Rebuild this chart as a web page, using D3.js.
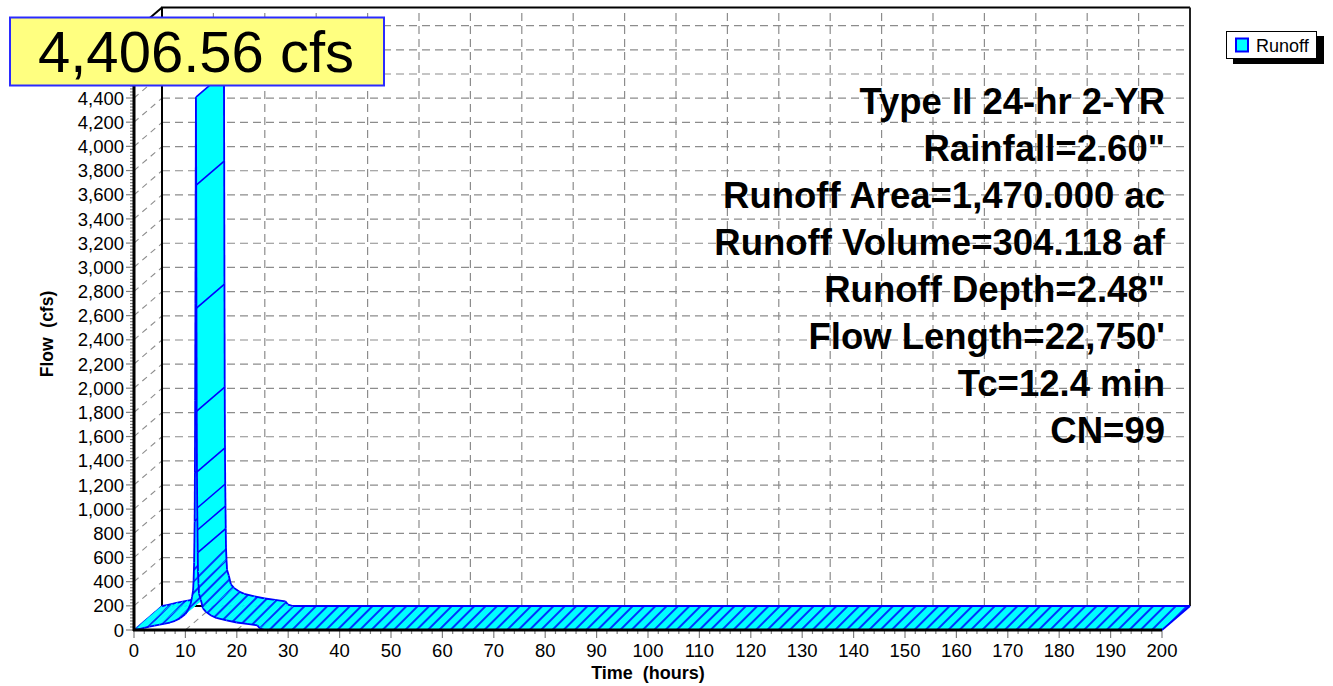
<!DOCTYPE html>
<html><head><meta charset="utf-8">
<script src="https://cdn.jsdelivr.net/npm/d3@7"></script>
<style>
body{margin:0;background:#fff}
svg{display:block}
text{font-family:"Liberation Sans",Arial,Helvetica,sans-serif}
</style>
</head><body>
<svg id="chart" width="1333" height="686"></svg>
<script>
// ---- data ----
const hours = [0, 1, 2, 3, 4, 5, 6, 7, 8, 9, 10, 10.5, 11, 11.3, 11.5, 11.6, 11.7, 11.8, 11.85, 11.9, 11.95, 12.0,
  12.05, 12.1, 12.15, 12.2, 12.25, 12.3, 12.35, 12.4, 12.45, 12.55, 12.65,
  13.0, 13.4, 14, 15, 16, 18, 20, 22, 24, 24.5, 25.5, 200];
const flowCfs = [0, 8, 18, 28, 36, 44, 52, 62, 76, 98, 132, 165, 215, 273, 330, 413, 560, 900, 1300, 1900, 2700, 3600,
  4406.56, 3680, 2663, 1811, 1307, 1009, 827, 640, 480, 380, 300,
  250, 180, 150, 120, 100, 80, 62, 50, 38, 12, 0, 0];
const seriesName = "Runoff";
const peakLabel = "4,406.56 cfs";
const xTickValues = [0,10,20,30,40,50,60,70,80,90,100,110,120,130,140,150,160,170,180,190,200];
const yGridValues = [0,200,400,600,800,1000,1200,1400,1600,1800,2000,2200,2400,2600,2800,3000,3200,3400,3600,3800,4000,4200,4400,4600,4800];
// labels visible in the reference (4,600 and 4,800 sit behind the peak label box)
const yTickLabels = ["0","200","400","600","800","1,000","1,200","1,400","1,600","1,800","2,000","2,200","2,400","2,600","2,800","3,000","3,200","3,400","3,600","3,800","4,000","4,200","4,400"];
const statsLines = ["Type II 24-hr 2-YR", "Rainfall=2.60\"", "Runoff Area=1,470.000 ac", "Runoff Volume=304.118 af",
  "Runoff Depth=2.48\"", "Flow Length=22,750'", "Tc=12.4 min", "CN=99"];
const xTitle = "Time  (hours)";
const yTitle = "Flow  (cfs)";

// ---- layout ----
const svg = d3.select("#chart");
const x = d3.scaleLinear().domain([0, 200]).range([134, 1162]);
const y = d3.scaleLinear().domain([0, 4950]).range([630, 31.5]);
const DX = 28, DY = -24;
const gridColor = "#8c8c8c", tickColor = "#808080";
const CYAN = "#00ffff", BLUE = "#0000ff";

const defs = svg.append("defs");
const pat = defs.append("pattern").attr("id", "hatch").attr("patternUnits", "userSpaceOnUse")
  .attr("width", 8).attr("height", 8).attr("patternTransform", "rotate(45)");
pat.append("line").attr("x1", 4).attr("y1", -1).attr("x2", 4).attr("y2", 9)
  .attr("stroke", BLUE).attr("stroke-width", 1.6);

const x0 = x.range()[0], x1 = x.range()[1];
const yBot = y(0), yTop = y(y.domain()[1]);

// grids
const g = svg.append("g").attr("fill", "none").attr("stroke", gridColor).attr("stroke-width", 1.2).attr("stroke-dasharray", "8,5");
yGridValues.filter(v => v > 0).forEach(v => {
  g.append("line").attr("x1", x0 + DX).attr("x2", x1 + DX).attr("y1", y(v) + DY).attr("y2", y(v) + DY);
});
xTickValues.filter(t => t > 0 && t < 200).forEach(t => {
  g.append("line").attr("x1", x(t) + DX).attr("x2", x(t) + DX).attr("y1", yBot + DY).attr("y2", yTop + DY);
});
const gd = svg.append("g").attr("fill", "none").attr("stroke", gridColor).attr("stroke-width", 1.1).attr("stroke-dasharray", "6,5");
yGridValues.forEach(v => {
  gd.append("line").attr("x1", x0).attr("y1", y(v)).attr("x2", x0 + DX).attr("y2", y(v) + DY);
});
xTickValues.filter(t => t > 0 && t < 200).forEach(t => {
  gd.append("line").attr("x1", x(t)).attr("y1", yBot).attr("x2", x(t) + DX).attr("y2", yBot + DY);
});

// frame
const fr = svg.append("g").attr("stroke", "#000").attr("fill", "none");
fr.append("path").attr("stroke-width", 2).attr("d", `M${x0 + DX},${yBot + DY}V${yTop + DY}H${x1 + DX}`);
fr.append("path").attr("stroke-width", 2).attr("stroke", "#222").attr("d", `M${x1 + DX},${yTop + DY}V${yBot + DY}`);
fr.append("path").attr("stroke-width", 2).attr("d", `M${x0 + DX},${yBot + DY}H${x1 + DX}`);
fr.append("path").attr("stroke-width", 2).attr("d", `M${x0},${yTop}L${x0 + DX},${yTop + DY}`);

// ticks
const tk = svg.append("g").attr("stroke", tickColor).attr("stroke-width", 1.2);
d3.range(0, 4951, 25).forEach(v => {
  const major = v % 200 === 0;
  tk.append("line").attr("x1", x0 - (major ? 8 : 4)).attr("x2", x0).attr("y1", y(v)).attr("y2", y(v));
});
d3.range(0, 201, 2).forEach(t => {
  const major = t % 10 === 0;
  tk.append("line").attr("x1", x(t)).attr("x2", x(t)).attr("y1", yBot).attr("y2", yBot + (major ? 8 : 4));
});

// ---- ribbon ----
const rib = svg.append("g");
const pts = hours.map((t, i) => ({ t, v: flowCfs[i] }));
function quad(a, b) {
  return [[x(a.t), y(a.v)], [x(b.t), y(b.v)], [x(b.t) + DX, y(b.v) + DY], [x(a.t) + DX, y(a.v) + DY]];
}
const line = d3.line();
rib.append("path").attr("d", line([[x(pts[0].t), y(pts[0].v)], [x(pts[0].t) + DX, y(pts[0].v) + DY]]))
  .attr("stroke", BLUE).attr("stroke-width", 1.6);
for (let i = 0; i < pts.length - 1; i++) {
  const a = pts[i], b = pts[i + 1];
  const q = quad(a, b);
  rib.append("path").attr("d", line(q) + "Z").attr("fill", CYAN).attr("stroke", CYAN).attr("stroke-width", 0.6);
  if (Math.max(a.v, b.v) < 600) {
    rib.append("path").attr("d", line(q) + "Z").attr("fill", "url(#hatch)");
  }
  rib.append("path").attr("d", line([q[0], q[1]])).attr("stroke", BLUE).attr("stroke-width", 1.8).attr("fill", "none");
  rib.append("path").attr("d", line([q[3], q[2]])).attr("stroke", BLUE).attr("stroke-width", 1.8).attr("fill", "none");
  if (a.v >= 600) {
    rib.append("path").attr("d", line([q[0], q[3]])).attr("stroke", BLUE).attr("stroke-width", 1.6);
  }
}
const last = pts[pts.length - 1];
rib.append("path").attr("d", line([[x(last.t), y(last.v)], [x(last.t) + DX, y(last.v) + DY]]))
  .attr("stroke", BLUE).attr("stroke-width", 1.8);

// front axes lines
svg.append("line").attr("x1", x0).attr("x2", x0).attr("y1", yBot + 1).attr("y2", yTop).attr("stroke", "#000").attr("stroke-width", 3);
svg.append("line").attr("x1", x0 - 1).attr("x2", x1).attr("y1", yBot).attr("y2", yBot).attr("stroke", "#000").attr("stroke-width", 3);

// tick labels
const lab = svg.append("g").attr("font-size", 18.5).attr("fill", "#000");
yTickLabels.forEach((s, i) => {
  lab.append("text").attr("x", x0 - 10).attr("y", y(yGridValues[i])).attr("dy", "0.36em").attr("text-anchor", "end").text(s);
});
xTickValues.forEach(t => {
  lab.append("text").attr("x", x(t)).attr("y", 657).attr("text-anchor", "middle").text(t);
});

// axis titles
svg.append("text").attr("x", 648).attr("y", 679).attr("text-anchor", "middle").attr("font-size", 18)
  .attr("font-weight", "bold").style("white-space", "pre").text(xTitle);
svg.append("text").attr("transform", "translate(53,334) rotate(-90)").attr("text-anchor", "middle")
  .attr("font-size", 17.5).attr("font-weight", "bold").style("white-space", "pre").text(yTitle);

// stats
const st = svg.append("g").attr("font-size", 36.5).attr("font-weight", "bold").attr("text-anchor", "end");
statsLines.forEach((s, i) => {
  st.append("text").attr("x", 1165).attr("y", 114 + i * 47).text(s);
});

// legend
const lg = svg.append("g");
lg.append("rect").attr("x", 1233).attr("y", 36).attr("width", 91).attr("height", 28).attr("fill", "#000");
lg.append("rect").attr("x", 1226.5).attr("y", 31.5).attr("width", 90).attr("height", 27).attr("fill", "#fff").attr("stroke", "#000").attr("stroke-width", 1);
lg.append("rect").attr("x", 1236).attr("y", 38.5).attr("width", 12).attr("height", 13).attr("fill", CYAN).attr("stroke", BLUE).attr("stroke-width", 2);
lg.append("text").attr("x", 1256).attr("y", 52).attr("font-size", 18).text(seriesName);

// peak label
svg.append("rect").attr("x", 10).attr("y", 17.5).attr("width", 374).attr("height", 68)
  .attr("fill", "#ffff80").attr("stroke", "#2b2bff").attr("stroke-width", 2);
svg.append("text").attr("x", 196).attr("y", 72).attr("text-anchor", "middle").attr("font-size", 58).text(peakLabel);
</script>
</body></html>
